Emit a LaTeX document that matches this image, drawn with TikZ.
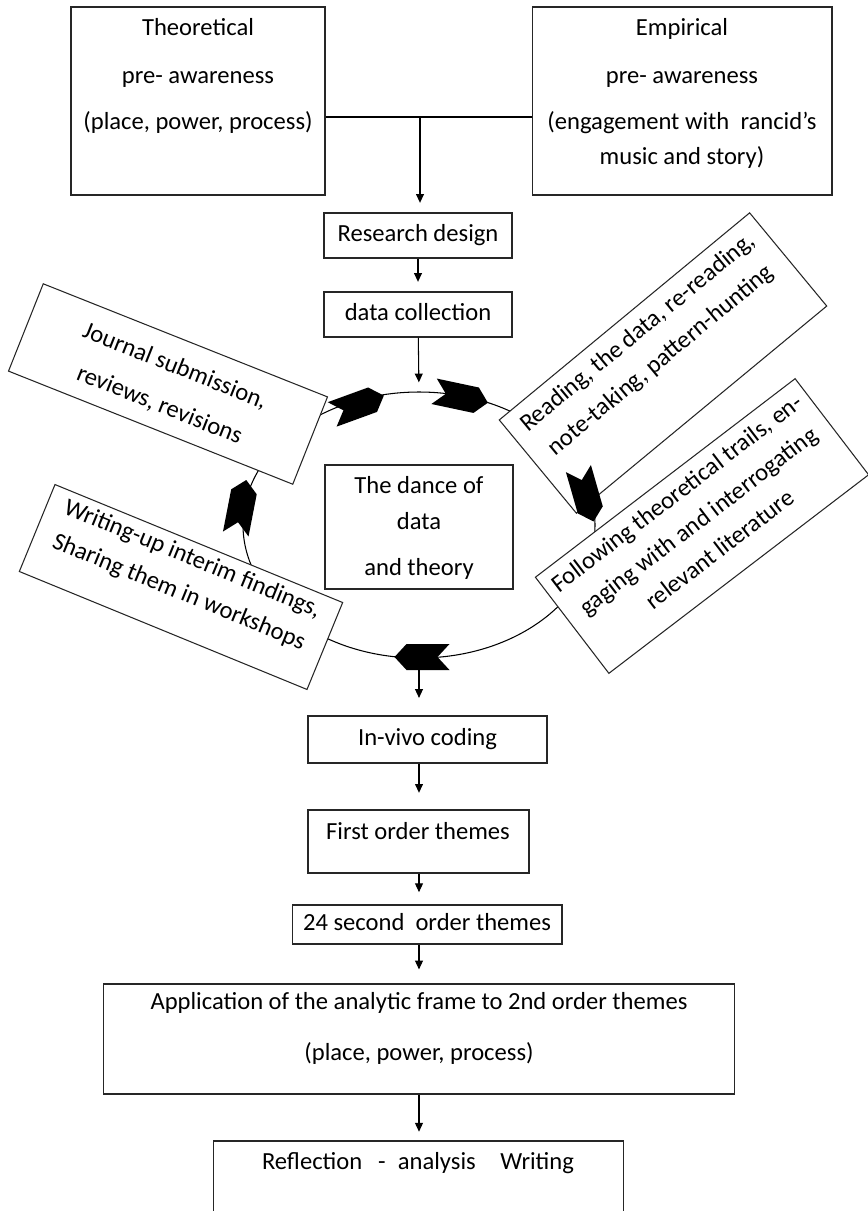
\documentclass[tikz,border=0pt]{standalone}
\usepackage{fontspec}
\setmainfont{Carlito}
\usetikzlibrary{arrows.meta}
\newcommand\ft{\fontsize{14}{17}\selectfont}
\begin{document}
\begin{tikzpicture}[x=0.02cm,y=-0.02cm,
  box/.style={draw=black!85, line width=0.6pt, fill=white, inner sep=0pt, font=\ft, text height=7pt, text depth=0pt},
  txt/.style={inner sep=0pt, font=\ft, text height=7pt, text depth=0pt},
  mtxt/.style={inner sep=0pt, align=center, font=\fontsize{14}{#1}\selectfont},
  arr/.style={line width=0.6pt, -{Triangle[length=5pt,width=4.5pt]}},
  ln/.style={line width=0.6pt},
  pics/chev/.style={code={\fill (27.5,0) -- (15.5,-13) -- (-27.5,-13) -- (-15.5,0) -- (-27.5,13) -- (15.5,13) -- cycle;}}
]
\useasboundingbox (0,0) rectangle (868,1211);
\clip (0,0) rectangle (868,1211);

% cycle
\draw[ln] (419,525) ellipse [x radius=176, y radius=133];
\coordinate (etop) at (419,392);
\coordinate (ebot) at (419,658);

% top boxes
\node[box, minimum width=5.08cm, minimum height=3.76cm] (theo) at (198,101) {};
\node[txt] (theo1) at (198,29) {Theoretical};
\node[txt] (theo2) at (198,77) {pre- awareness};
\node[txt] (theo3) at (198,123) {(place, power, process)};
\node[box, minimum width=6cm, minimum height=3.76cm] (emp) at (682,101) {};
\node[txt] (emp1) at (682,29) {Empirical};
\node[txt] (emp2) at (682,77) {pre- awareness};
\node[txt] (emp3) at (682,123) {(engagement with\ \ rancid’s};
\node[txt] (emp4) at (682,158) {music and story)};
\coordinate (j) at (420,117);
\draw[ln] (theo.east |- j) -- (emp.west |- j);

\node[box, minimum width=3.76cm, minimum height=0.9cm] (rd) at (418,235.5) {Research design};
\node[box, minimum width=3.76cm, minimum height=0.9cm] (dc) at (418,314.5) {data collection};
\draw[arr, shorten >=5.5pt] (j) -- (j |- rd.north);
\draw[arr, shorten >=5.5pt] (rd) -- (dc);
\draw[arr, shorten >=5.5pt] (dc) -- (etop);

\node[box, minimum width=3.76cm, minimum height=2.48cm] (dance) at (419,527) {};
\node[txt] (dance1) at (419,487) {The dance of};
\node[txt] (dance2) at (419,523) {data};
\node[txt] (dance3) at (419,569) {and theory};

% rotated boxes
\begin{scope}[shift={(168,384)}, rotate=-21.7, transform shape]
  \node[box, minimum width=6.12cm, minimum height=1.88cm] (journal) at (0,0) {};
  \node[mtxt=23.8pt] (journaltxt) at (0,2) {Journal submission,\\reviews, revisions};
\end{scope}
\begin{scope}[shift={(181,587)}, rotate=-22.3, transform shape]
  \node[box, minimum width=6.22cm, minimum height=1.88cm] (writing) at (0,0) {};
  \node[mtxt=20.4pt] (writingtxt) at (0,-12) {Writing-up interim findings,\\Sharing them in workshops};
\end{scope}
\begin{scope}[shift={(663,363)}, rotate=39.6, transform shape]
  \node[box, minimum width=6.5cm, minimum height=2.42cm] (reading) at (0,0) {};
  \node[mtxt=20.4pt] (readingtxt) at (0,-21) {Reading, the data, re-reading,\\note-taking, pattern-hunting};
\end{scope}
\begin{scope}[shift={(702,526)}, rotate=37.4, transform shape]
  \node[box, minimum width=6.54cm, minimum height=2.42cm] (follow) at (0,0) {};
  \node[mtxt=20.1pt] (followtxt) at (0,-6.5) {Following theoretical trails, en-\\gaging with and interrogating\\relevant literature};
\end{scope}

% chevrons on the cycle
\pic[rotate=20] at (358,405) {chev};
\pic[rotate=-12] at (461,397) {chev};
\pic[rotate=-74] at (586,495) {chev};
\pic[rotate=79] at (241,507) {chev};

% lower flow
\node[box, minimum width=4.78cm, minimum height=0.94cm] (vivo) at (427.5,739.5) {In-vivo coding};
\node[box, minimum width=4.42cm, minimum height=1.26cm] (first) at (418.5,841.5) {};
\node[txt] (first1) at (418,833) {First order themes};
\node[box, minimum width=5.4cm, minimum height=0.78cm] (second) at (427,924.5) {24 second\ \ order themes};
\node[box, minimum width=12.64cm, minimum height=2.2cm] (appl) at (419,1039) {};
\node[txt] (appl1) at (419,1003) {Application of the analytic frame to 2nd order themes};
\node[txt] (appl2) at (419,1054) {(place, power, process)};
\node[box, minimum width=8.22cm, minimum height=2cm] (refl) at (418.5,1191) {};
\node[txt] (refl1) at (418,1163) {Reflection\hspace{9pt}-\hspace{7pt}analysis\hspace{14pt}Writing};

\draw[arr, shorten >=10pt] (ebot) -- (ebot |- vivo.north);
\draw[arr, shorten >=9.5pt] (vivo.south -| ebot) -- (ebot |- first.north);
\draw[arr, shorten >=7pt] (first.south -| ebot) -- (ebot |- second.north);
\draw[arr, shorten >=8pt] (second.south -| ebot) -- (ebot |- appl.north);
\draw[arr, shorten >=5pt] (appl.south -| ebot) -- (ebot |- refl.north);
\pic[rotate=180] at (422,657) {chev};
\end{tikzpicture}
\end{document}
